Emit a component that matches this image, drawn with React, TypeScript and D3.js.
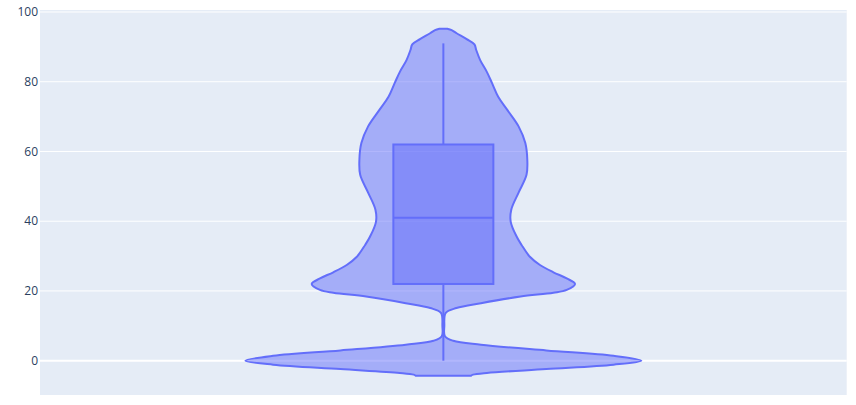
import { useEffect, useRef } from 'react'
import * as d3 from 'd3'

// violin outline: value -> relative density
const profileValues = [-4.3, -4.0, -3.5, -2.4, -1.15, 0, 1.4, 2.95, 4.6, 5.7, 7.0, 10, 13.7, 15.1, 16.5, 18.4, 19.5, 20.3, 22.0, 23.6, 25.35, 27.45, 29.8, 33.2, 35.6, 39.9, 43.3, 48.2, 53.3, 57.6, 62.4, 67.2, 72.0, 75.7, 79.6, 82.9, 86.2, 89.1, 90.7, 92.2, 93.9, 94.8, 95.2]
const profileDensity = [0.14, 0.15, 0.22, 0.52, 0.86, 1.0, 0.86, 0.52, 0.19, 0.05, 0.008, 0.005, 0.012, 0.066, 0.19, 0.39, 0.556, 0.623, 0.665, 0.623, 0.556, 0.488, 0.437, 0.395, 0.37, 0.34, 0.343, 0.38, 0.42, 0.424, 0.414, 0.38, 0.322, 0.277, 0.246, 0.219, 0.186, 0.166, 0.157, 0.118, 0.067, 0.042, 0.02]

// box stats
const boxLower = 0
const boxQ1 = 22
const boxMedian = 41
const boxQ3 = 62
const boxUpper = 91

const yTicks = [0, 20, 40, 60, 80, 100]

const Violin = () => {
  const ref = useRef<SVGSVGElement | null>(null)
  useEffect(() => {
    const el = ref.current
    if (!el) return
    const width = 856, height = 405
    const margin = { top: 10, right: 9.3, bottom: 10, left: 40 }
    const svg = d3.select(el)
    const x = d3.scaleBand().domain(['a']).range([margin.left, width - margin.right])
    const y = d3.scaleLinear().domain([-9.84, 100.57]).range([height - margin.bottom, margin.top])
    const w = d3.scaleLinear().domain([0, 1]).range([0, 198])
    const cx = (x('a') as number) + x.bandwidth() / 2
    const boxHalf = 50
    const color = '#636efa'

    svg.append('rect')
      .attr('x', margin.left).attr('y', margin.top)
      .attr('width', width - margin.left - margin.right)
      .attr('height', height - margin.top - margin.bottom)
      .attr('fill', '#e5ecf6')

    svg.append('g').selectAll('line').data(yTicks).join('line')
      .attr('x1', margin.left).attr('x2', width - margin.right)
      .attr('y1', (d: number) => y(d)).attr('y2', (d: number) => y(d))
      .attr('stroke', '#fff').attr('stroke-width', (d: number) => d === 0 ? 2 : 1)

    svg.append('g').selectAll('text').data(yTicks).join('text')
      .attr('x', margin.left - 2).attr('y', (d: number) => y(d))
      .attr('dy', '0.35em').attr('text-anchor', 'end')
      .attr('font-family', '"Open Sans", sans-serif').attr('font-size', 12)
      .attr('fill', '#2a3f5f')
      .text((d: number) => String(d))

    const profile = profileValues.map((v, i) => [v, profileDensity[i]] as [number, number])
    const area = d3.area<[number, number]>()
      .y((d: [number, number]) => y(d[0]))
      .x0((d: [number, number]) => cx - w(d[1]))
      .x1((d: [number, number]) => cx + w(d[1]))
      .curve(d3.curveCatmullRom)
    svg.append('path').datum(profile)
      .attr('d', area as any)
      .attr('fill', 'rgba(99,110,250,0.5)')
      .attr('stroke', color).attr('stroke-width', 2).attr('stroke-linejoin', 'round')

    // whiskers
    svg.append('line').attr('x1', cx).attr('x2', cx).attr('y1', y(boxLower)).attr('y2', y(boxQ1))
      .attr('stroke', color).attr('stroke-width', 2)
    svg.append('line').attr('x1', cx).attr('x2', cx).attr('y1', y(boxQ3)).attr('y2', y(boxUpper))
      .attr('stroke', color).attr('stroke-width', 2)

    svg.append('rect')
      .attr('x', cx - boxHalf).attr('y', y(boxQ3))
      .attr('width', boxHalf * 2).attr('height', y(boxQ1) - y(boxQ3))
      .attr('fill', 'rgba(99,110,250,0.5)')
      .attr('stroke', color).attr('stroke-width', 2)
    svg.append('line').attr('x1', cx - boxHalf).attr('x2', cx + boxHalf)
      .attr('y1', y(boxMedian)).attr('y2', y(boxMedian))
      .attr('stroke', color).attr('stroke-width', 2)

    return () => { svg.selectAll('*').remove() }
  }, [])
  return <svg ref={ref} width={856} height={405} style={{ position: 'absolute', left: 0, top: 0, background: '#fff' }} />
}

export default function App() {
  return <Violin />
}
